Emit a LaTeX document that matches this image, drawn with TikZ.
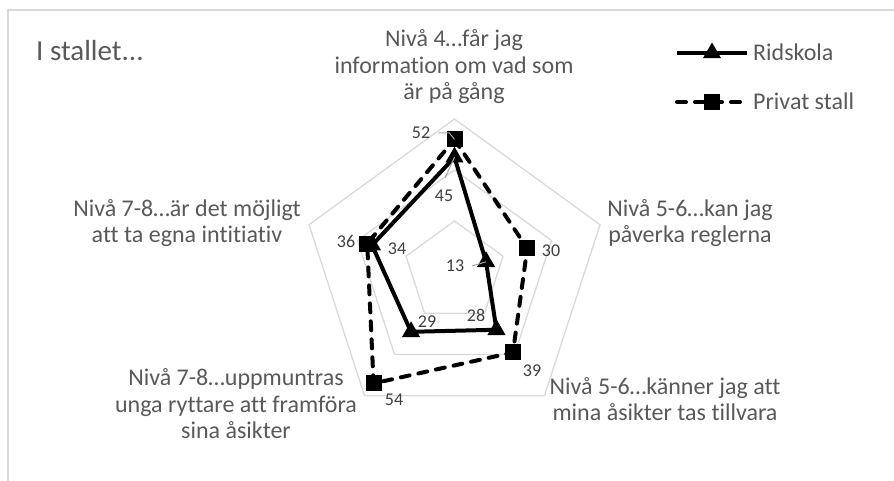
\documentclass[tikz,border=0pt]{standalone}
\usepackage{fontspec}
\setmainfont{Carlito}[Ligatures=NoCommon]
\usetikzlibrary{shapes.geometric}
\definecolor{gridgray}{RGB}{217,217,217}
\definecolor{txtgray}{RGB}{89,89,89}
\definecolor{numgray}{RGB}{64,64,64}
\definecolor{leadgray}{RGB}{166,166,166}
\begin{document}
\begin{tikzpicture} [x=1pt, y=1pt, every text node part/.style={align=center}]
        \tikzset{
          axislabel/.style={font=\fontsize{24}{26.5}\selectfont, text=txtgray, inner sep=0pt},
          numlabel/.style={font=\fontsize{18}{20}\selectfont, text=numgray, inner sep=0pt},
          gridline/.style={draw=gridgray, line width=1.3pt},
          ridline/.style={line width=4pt, line join=round},
          privline/.style={line width=4pt, line join=round, line cap=round, dash pattern=on 9pt off 9pt},
          trimark/.style={regular polygon, regular polygon sides=3, fill=black, inner sep=0pt, minimum size=21pt},
          sqmark/.style={rectangle, fill=black, inner sep=0pt, minimum size=16pt},
          leader/.style={draw=leadgray, line width=1pt},
        }
        \useasboundingbox (0,0) rectangle (894,481);
        \draw [gridgray, line width=1.5pt] (8,0) -- (8,471) -- (894,471);
        \node [axislabel, anchor=base west, font=\fontsize{29}{32}\selectfont](title) at (36,420) {I stallet...};
        % 
        \begin{scope}[shift={(454.5,209)}]
          \foreach \r in {51,102,153}
            \draw [gridline] (90:\r) -- (18:\r) -- (-54:\r) -- (-126:\r) -- (162:\r) -- cycle;
          \coordinate (rinfo) at (90:45*2.55);
          \coordinate (rregl) at (18:13*2.55);
          \coordinate (rasik) at (-54:28*2.55);
          \coordinate (rfram) at (-126:29*2.55);
          \coordinate (rinit) at (162:34*2.55);
          \coordinate (pinfo) at (90:52*2.55);
          \coordinate (pregl) at (18:30*2.55);
          \coordinate (pasik) at (-54:39*2.55);
          \coordinate (pfram) at (-126:54*2.55);
          \coordinate (pinit) at (162:36*2.55);
        \end{scope}
        % 
        \draw [ridline] (rinfo) -- (rregl) -- (rasik) -- (rfram) -- (rinit) -- cycle;
        \foreach \p in {rinfo,rregl,rasik,rfram,rinit}
          \node [trimark](m\p) at (\p) {};
        \draw [privline] (pinfo) -- (pregl) -- (pasik) -- (pfram) -- (pinit) -- cycle;
        \foreach \p in {pinfo,pregl,pasik,pfram,pinit}
          \node [sqmark](m\p) at (\p) {};
        % 
        \node [axislabel, anchor=base](linfo) at (454,381) {Nivå 4…får jag\\information om vad som\\är på gång};
        \node [axislabel, anchor=base](lregl) at (690,238) {Nivå 5-6…kan jag\\påverka reglerna};
        \node [axislabel, anchor=base](lasik) at (665,60) {Nivå 5-6…känner jag att\\mina åsikter tas tillvara};
        \node [axislabel, anchor=base](lfram) at (236,42) {Nivå 7-8…uppmuntras\\unga ryttare att framföra\\sina åsikter};
        \node [axislabel, anchor=base](linit) at (187,238) {Nivå 7-8…är det möjligt\\att ta egna intitiativ};
        % 
        \node [numlabel](n52) at (421,348) {52};
        \node [numlabel](n45) at (444,285) {45};
        \node [numlabel](n34) at (397,232) {34};
        \node [numlabel](n36) at (346,240) {36};
        \node [numlabel](n13) at (455,215) {13};
        \node [numlabel](n30) at (551,230) {30};
        \node [numlabel](n28) at (476,166) {28};
        \node [numlabel](n29) at (427,159) {29};
        \node [numlabel](n39) at (532,110) {39};
        \node [numlabel](n54) at (394,81) {54};
        \draw [leader] ([xshift=8pt]n52.east) -- ++(11,0) -- (pinfo);
        \draw [leader] ([shift={(1,12)}]n45.north) -- (rinfo);
        \draw [leader] ([xshift=8pt]n13.east) -- (rregl);
        % legend
        \coordinate (ridA) at (677,428);
        \coordinate (ridB) at (747,428);
        \coordinate (privA) at (677,379);
        \coordinate (privB) at (747,379);
        \draw [ridline] (ridA) -- (ridB);
        \node [trimark](ridmark) at (712,428) {};
        \node [axislabel, anchor=base west](ridtext) at (753,420) {Ridskola};
        \draw [privline] (privA) -- (privB);
        \node [sqmark](privmark) at (712,379) {};
        \node [axislabel, anchor=base west](privtext) at (753,371) {Privat stall};
    \end{tikzpicture}
\end{document}
